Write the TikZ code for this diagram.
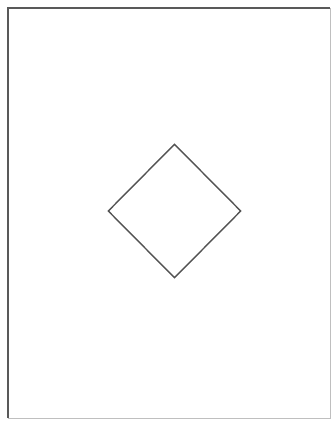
\documentclass[tikz,border=0pt]{standalone}
\usetikzlibrary{shapes.geometric}
\begin{document}
\begin{tikzpicture}[x=1bp,y=-1bp,
  framedark/.style={draw=black!65,line width=1.3bp},
  framelight/.style={draw=black!25,line width=1bp},
  rhombus/.style={diamond,draw=black!68,line width=1.4bp,inner sep=0pt,minimum width=133bp,minimum height=134bp}]
\useasboundingbox[fill=white] (0,0) rectangle (332,423);
\coordinate (tl) at (8,8);
\coordinate (tr) at (330,8);
\coordinate (bl) at (8,418);
\coordinate (br) at (330,418);
\draw[framedark] (bl) -- (tl) -- (tr);
\draw[framelight] (tr) -- (br) -- (bl);
\node[rhombus] (d) at (174.5,211) {};
\end{tikzpicture}
\end{document}
